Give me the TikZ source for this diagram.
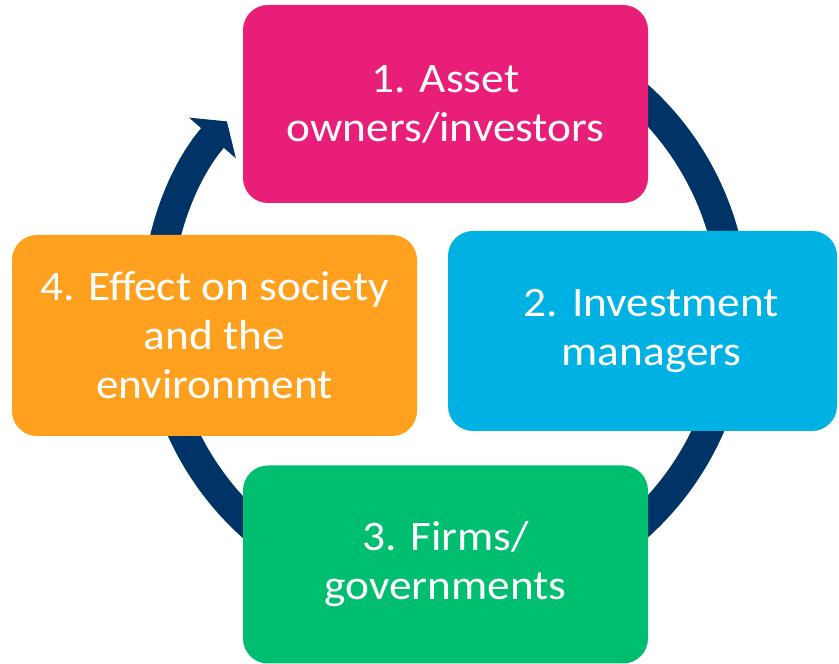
\documentclass[tikz,border=0pt]{standalone}
\usepackage{fontspec}
\setmainfont{Carlito}[FakeStretch=1.08]
\usetikzlibrary{arrows.meta}
\definecolor{assetPink}{RGB}{233,30,121}
\definecolor{managerCyan}{RGB}{0,178,227}
\definecolor{firmGreen}{RGB}{0,190,112}
\definecolor{societyOrange}{RGB}{255,160,30}
\definecolor{ringBlue}{RGB}{0,52,102}
\begin{document}
\begin{tikzpicture}[
        x=1pt, y=1pt,
        boxNode/.style={rectangle, rounded corners=25pt, minimum width=405pt, minimum height=198pt, inner sep=0pt, align=center, text=white, font=\fontsize{42}{49}\selectfont},
        textNode/.style={inner sep=0pt, align=center, text=white, font=\fontsize{42}{49}\selectfont},
        ringArrow/.style={draw=ringBlue, line width=30pt, -{Triangle[length=22pt, width=61pt]}}
    ]
        \useasboundingbox (0,0) rectangle (839,664);

        % Cycle arrow behind the boxes
        \coordinate (hub) at (445,353);
        \draw[ringArrow] (hub) ++(60:289) arc[start angle=60, end angle=-221, radius=289];

        % Boxes
        \node[boxNode, fill=assetPink] (owners) at (445.5,560) {1. Asset\\owners/investors};
        \node[boxNode, fill=managerCyan, minimum width=389pt, minimum height=200pt] (managers) at (642.5,333) {};
        \node[textNode] (managersText) at ([xshift=9pt]managers.center) {2. Investment\\managers};
        \node[boxNode, fill=firmGreen] (firms) at (445.5,99.5) {3. Firms/\\governments};
        \node[boxNode, fill=societyOrange, minimum height=201pt] (society) at (214.5,328.5) {4. Effect on society\\and the\\environment};
    \end{tikzpicture}
\end{document}
